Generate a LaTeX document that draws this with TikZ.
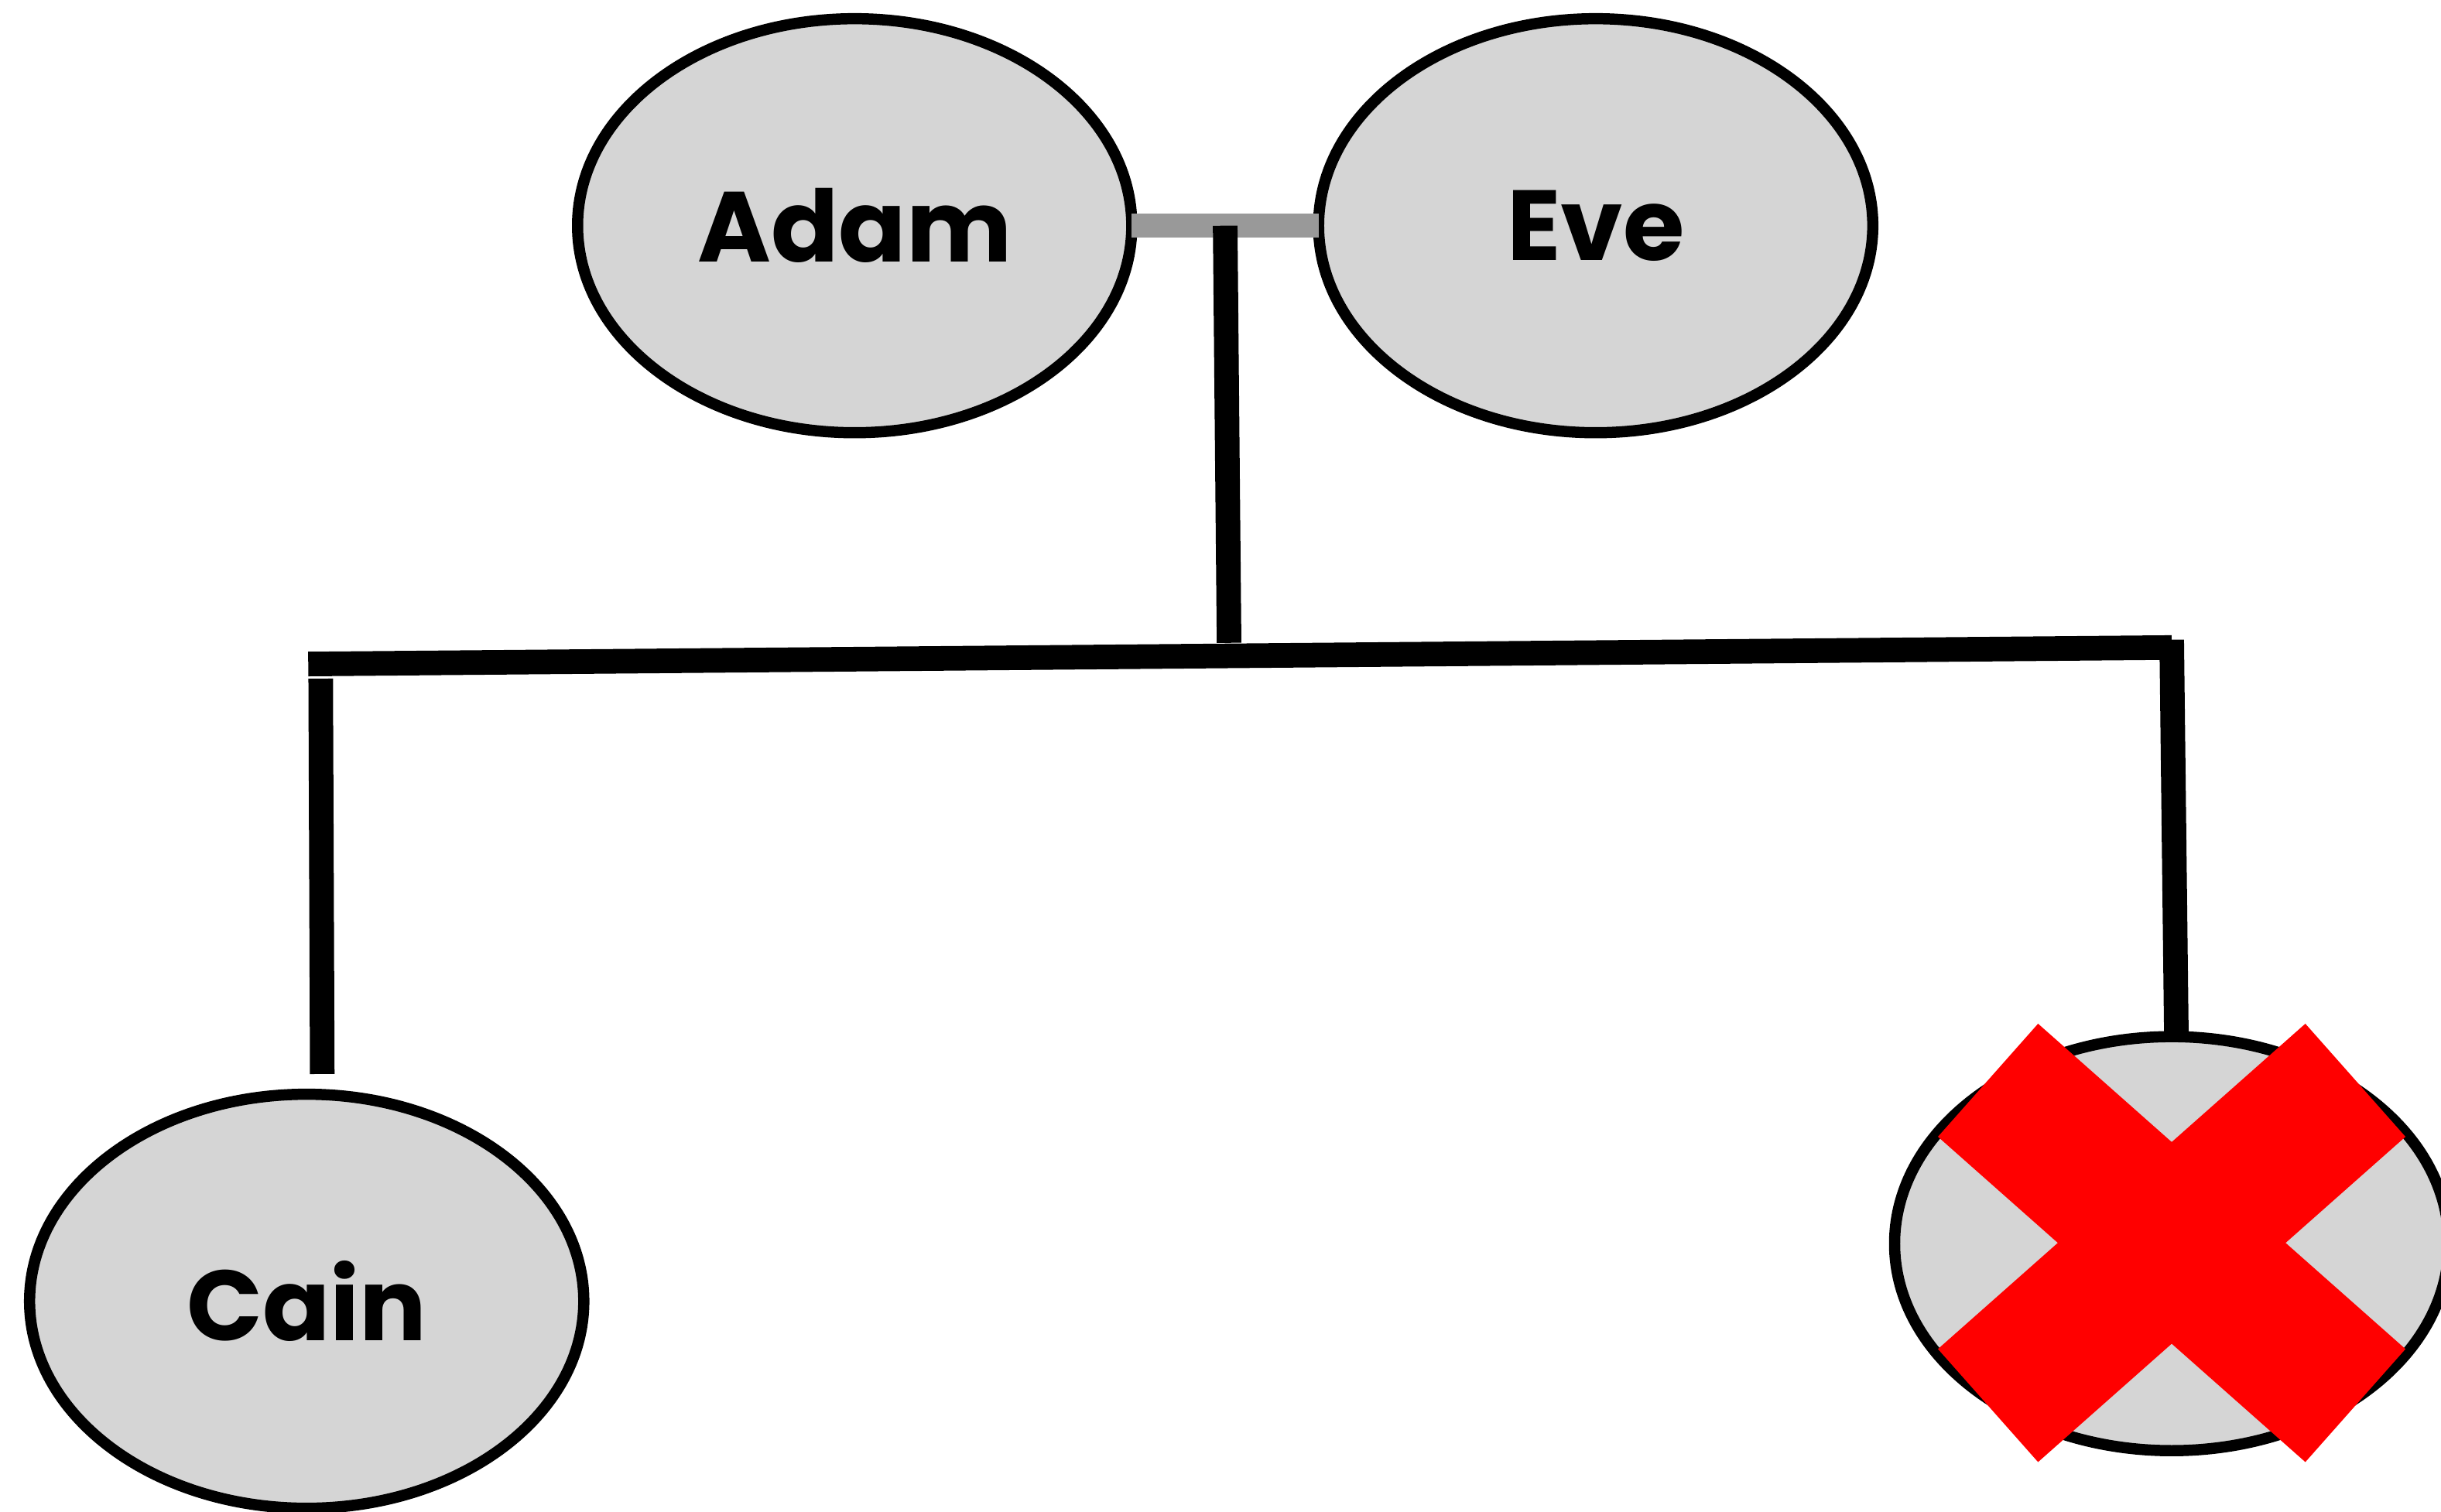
\documentclass[tikz,border=0pt]{standalone}
\usepackage{fontspec}
\setmainfont{Poppins}
\usepackage{tikz}
\usetikzlibrary{shapes.geometric, calc}

\definecolor{personfill}{HTML}{D5D5D5}
\definecolor{wedgray}{HTML}{999999}

\begin{document}
\begin{tikzpicture}[x=0.5pt, y=-0.5pt,
					person/.style={ellipse, draw, line width=3.6pt, fill=personfill,
						outer sep=0pt, minimum width=178pt, minimum height=133pt,
						font=\fontsize{32}{36}\selectfont\bfseries},
					link/.style={line width=7.9pt},
					wed/.style={line width=7.8pt, draw=wedgray},
					cross/.style={line width=48.5pt, draw=red}]

	\useasboundingbox (0,0) rectangle (1568,971.4);

	\node[person] (adam) at (549,145)  {Adam};
	\node[person] (eve)  at (1025,145) {Eve};
	\node[person] (cain) at (197,836)  {Cain};
	\node[person] (abel) at (1395,799) {};

	\coordinate (wedmid)  at ($(adam.east)!0.5!(eve.west)$);
	\coordinate (kids)    at (789.5,413);
	\coordinate (leftend) at (198,426.6);
	\coordinate (rightend) at (1395,416);
	\coordinate (cainup)  at (207,690);
	\coordinate (abelup)  at (1398,665);

	\draw[wed] (adam.east) -- (eve.west);
	\draw[link] (wedmid) -- (kids);
	\draw[link] (leftend) -- (rightend);
	\draw[link] (206,436) -- (cainup);
	\draw[link] (1395,411) -- (abelup);

	% struck out
	\draw[cross] (1277,694) -- (1513,903);
	\draw[cross] (1513,694) -- (1277,903);
\end{tikzpicture}
\end{document}
